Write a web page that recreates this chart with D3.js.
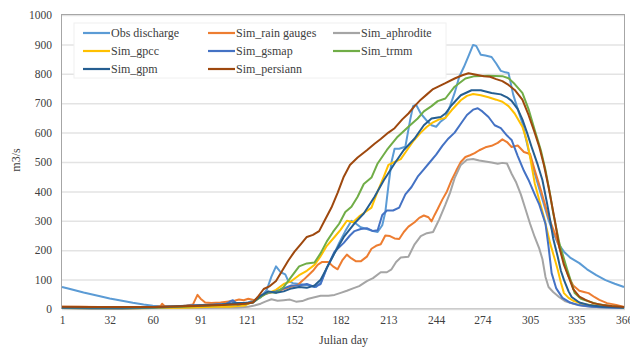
<!doctype html>
<html lang="">
<head>
  <meta charset="utf-8">
  <script src="https://cdn.jsdelivr.net/npm/d3@7/dist/d3.min.js"></script>
  <style>
    body { margin: 0; background: #fff; }
    svg text { font-family: "Liberation Serif", "Times New Roman", serif; fill: #404040; }
  </style>
</head>
<body>
<div id="chart"></div>
<script>
// daily discharge as [julian day, m3/s]
var obsDischarge = [[1,75],[5,70],[10,63],[15,56],[20,50],[25,44],[32,36],[40,28],[47,21],[54,15],[60,11],[66,9],[72,9],[78,10],[84,12],[90,13],[96,15],[102,17],[107,18],[111,28],[113,18],[118,20],[122,22],[126,30],[130,40],[134,65],[137,110],[140,145],[143,125],[146,118],[148,95],[151,88],[155,85],[159,82],[163,78],[166,75],[169,90],[173,140],[177,180],[181,225],[185,265],[189,300],[192,290],[195,278],[199,272],[203,265],[206,262],[209,285],[211,330],[213,420],[215,500],[217,545],[220,545],[224,552],[227,640],[229,690],[231,695],[234,665],[238,640],[241,625],[244,620],[247,638],[250,650],[253,690],[256,735],[259,790],[262,823],[265,860],[268,898],[270,895],[273,865],[276,862],[280,857],[283,835],[286,810],[289,805],[291,803],[294,730],[297,680],[300,632],[304,540],[308,462],[312,390],[317,303],[320,260],[323,224],[327,195],[331,175],[337,156],[342,135],[348,115],[354,98],[360,86],[366,75]];
var simRainGauges = [[1,8],[12,8],[25,7],[40,6],[55,6],[62,7],[65,9],[66,18],[68,8],[75,8],[82,12],[86,15],[89,48],[91,35],[94,22],[98,20],[104,22],[108,25],[113,28],[116,32],[119,30],[122,35],[126,30],[130,42],[134,53],[138,58],[141,60],[145,68],[150,76],[154,82],[158,100],[161,115],[164,130],[167,150],[170,160],[174,160],[177,145],[180,135],[183,165],[186,185],[189,172],[192,162],[195,162],[199,178],[202,205],[205,215],[208,220],[211,250],[214,248],[217,240],[220,238],[223,262],[226,280],[230,295],[233,310],[236,318],[239,312],[241,298],[243,320],[245,340],[248,372],[251,400],[254,438],[257,470],[260,500],[263,517],[266,523],[269,530],[272,540],[276,550],[280,555],[284,565],[287,577],[290,568],[293,551],[297,556],[301,534],[305,527],[308,473],[312,405],[317,313],[321,258],[324,211],[327,160],[330,110],[333,80],[337,62],[340,58],[343,54],[347,40],[350,31],[355,20],[361,14],[366,7]];
var simAphrodite = [[1,3],[20,3],[40,2],[60,3],[80,3],[100,4],[115,5],[122,8],[126,12],[130,18],[133,25],[137,33],[141,28],[145,30],[149,32],[153,25],[157,27],[161,35],[165,40],[169,45],[174,45],[178,48],[182,55],[186,62],[190,70],[194,78],[199,95],[203,105],[208,125],[212,125],[215,135],[218,160],[221,175],[226,178],[230,220],[234,248],[238,258],[242,262],[246,305],[250,355],[253,395],[256,445],[260,490],[264,508],[268,510],[272,505],[276,502],[280,498],[284,494],[287,497],[290,495],[293,460],[296,430],[299,390],[302,340],[305,290],[308,245],[311,205],[313,170],[315,109],[317,75],[320,58],[324,40],[328,26],[333,18],[340,10],[350,6],[366,3]];
var simGpcc = [[1,3],[20,2],[40,2],[60,3],[80,4],[90,6],[100,8],[110,8],[115,10],[120,12],[125,25],[130,45],[135,55],[140,65],[145,85],[150,95],[155,115],[160,130],[165,150],[169,180],[173,215],[178,245],[182,270],[186,300],[190,295],[194,315],[198,330],[202,345],[206,400],[210,450],[213,490],[217,500],[221,510],[225,540],[229,570],[234,600],[238,620],[242,635],[246,645],[250,650],[254,676],[260,710],[264,725],[268,731],[273,727],[278,720],[283,712],[287,705],[291,690],[295,665],[300,620],[303,570],[305,517],[308,428],[311,370],[314,313],[318,224],[321,170],[323,133],[325,90],[327,54],[330,38],[333,28],[340,16],[350,10],[366,5]];
var simGsmap = [[1,3],[20,2],[40,2],[60,4],[75,8],[85,12],[95,14],[102,15],[107,16],[112,30],[115,15],[120,18],[125,25],[130,45],[135,55],[140,60],[145,70],[150,80],[155,80],[160,85],[165,75],[169,85],[173,140],[178,195],[184,225],[188,250],[191,265],[195,272],[199,275],[203,265],[206,268],[209,320],[212,335],[216,335],[220,345],[224,390],[228,415],[232,450],[236,475],[240,500],[244,525],[248,555],[252,580],[256,600],[260,630],[264,660],[268,678],[271,683],[274,672],[278,653],[282,625],[286,615],[290,590],[293,575],[297,520],[301,470],[304,439],[308,390],[311,355],[315,290],[317,211],[319,122],[322,70],[326,38],[331,22],[336,14],[345,8],[355,5],[366,3]];
var simTrmm = [[1,5],[20,4],[40,4],[60,5],[80,8],[95,12],[105,14],[115,16],[120,18],[125,22],[130,40],[135,58],[140,55],[145,75],[150,110],[155,145],[160,155],[165,158],[169,190],[173,230],[177,262],[181,290],[185,330],[189,348],[193,382],[197,425],[202,447],[206,495],[212,541],[219,586],[226,620],[232,648],[236,672],[241,690],[245,707],[250,716],[256,756],[263,784],[269,792],[278,793],[287,792],[291,785],[295,765],[300,735],[304,680],[308,609],[312,540],[315,473],[318,390],[320,327],[324,224],[329,136],[334,54],[338,35],[343,26],[350,15],[358,9],[366,5]];
var simGpm = [[1,5],[20,4],[40,4],[60,6],[80,10],[95,13],[105,15],[115,20],[120,20],[125,22],[130,45],[135,60],[140,55],[145,60],[150,70],[155,75],[160,72],[165,80],[169,100],[173,140],[178,190],[184,245],[191,291],[197,325],[204,382],[210,438],[217,495],[223,541],[230,580],[236,625],[241,648],[247,653],[250,665],[254,693],[260,727],[267,744],[273,744],[280,735],[286,730],[290,720],[293,708],[297,680],[300,645],[303,600],[306,551],[310,490],[313,439],[316,360],[318,303],[320,240],[323,177],[325,130],[327,99],[330,60],[332,41],[337,22],[343,14],[352,8],[366,5]];
var simPersiann = [[1,8],[20,7],[40,7],[60,7],[80,9],[95,12],[105,14],[115,16],[120,18],[125,22],[128,40],[132,68],[136,78],[140,95],[144,130],[148,165],[152,195],[156,220],[160,245],[164,252],[168,265],[172,305],[176,345],[180,395],[184,450],[188,490],[193,515],[199,540],[204,562],[208,578],[213,600],[217,615],[222,645],[226,665],[230,690],[234,712],[238,730],[242,748],[246,758],[250,768],[256,784],[261,795],[265,802],[270,797],[275,792],[279,790],[283,782],[287,775],[291,762],[295,745],[300,712],[304,660],[308,600],[311,551],[314,490],[317,415],[321,303],[324,210],[327,150],[330,110],[333,68],[337,42],[341,31],[346,20],[352,14],[358,10],[366,7]];

var seriesNames = ["Obs discharge", "Sim_rain gauges", "Sim_aphrodite", "Sim_gpcc", "Sim_gsmap", "Sim_trmm", "Sim_gpm", "Sim_persiann"];
var seriesData = [obsDischarge, simRainGauges, simAphrodite, simGpcc, simGsmap, simTrmm, simGpm, simPersiann];
var colors = ["#5b9bd5", "#ed7d31", "#a5a5a5", "#ffc000", "#4472c4", "#70ad47", "#255e91", "#9e480e"];

var xTicks = [1, 32, 60, 91, 121, 152, 182, 213, 244, 274, 305, 335, 366];
var yTicks = [0, 100, 200, 300, 400, 500, 600, 700, 800, 900, 1000];

var width = 630, height = 347;
var plotL = 62, plotR = 625, plotT = 15, plotB = 309;

var svg = d3.select("#chart").append("svg")
    .attr("width", width)
    .attr("height", height);

var x = d3.scaleLinear().domain([1, 366]).range([plotL, plotR - 1]);
var y = d3.scaleLinear().domain([0, 1000]).range([plotB, plotT]);

// gridlines + y labels
var yAxis = svg.append("g")
    .attr("transform", "translate(" + plotL + ",0)")
    .call(d3.axisLeft(y).tickValues(yTicks).tickFormat(d3.format("d"))
      .tickSize(-(plotR - plotL)).tickPadding(10));
yAxis.select(".domain").remove();
yAxis.selectAll("line").attr("stroke", "#e3e3e3").attr("stroke-width", 1.5);
yAxis.selectAll("text").style("font-size", "11.5px");

// x labels
var xAxis = svg.append("g")
    .attr("transform", "translate(0," + plotB + ")")
    .call(d3.axisBottom(x).tickValues(xTicks).tickSize(0).tickPadding(7));
xAxis.select(".domain").remove();
xAxis.selectAll("text").style("font-size", "11.5px");

// plot frame
svg.append("rect")
    .attr("x", plotL - 0.5).attr("y", plotT - 0.5)
    .attr("width", plotR - plotL).attr("height", plotB - plotT)
    .attr("fill", "none").attr("stroke", "#a6a6a6").attr("stroke-width", 1);
svg.append("line")
    .attr("x1", plotL).attr("x2", plotR).attr("y1", plotB).attr("y2", plotB)
    .attr("stroke", "#d9d9d9").attr("stroke-width", 1.5);

var line = d3.line()
    .x(function(d) { return x(d[0]); })
    .y(function(d) { return y(d[1]); });

svg.selectAll(".series")
    .data(seriesData)
  .enter().append("path")
    .attr("class", "series")
    .attr("d", line)
    .attr("fill", "none")
    .attr("stroke", function(d, i) { return colors[i]; })
    .attr("stroke-width", 2)
    .attr("stroke-linejoin", "round");

// legend
var legend = svg.append("g");
legend.append("rect")
    .attr("x", 74).attr("y", 23).attr("width", 372).attr("height", 55)
    .attr("fill", "#fff").attr("stroke", "#f0f0f0");

var item = legend.selectAll(".item")
    .data(seriesNames)
  .enter().append("g")
    .attr("class", "item")
    .attr("transform", function(d, i) {
      return "translate(" + (83 + (i % 3) * 125) + "," + (33 + Math.floor(i / 3) * 18) + ")";
    });
item.append("line")
    .attr("x1", 0).attr("x2", 27)
    .attr("stroke", function(d, i) { return colors[i]; })
    .attr("stroke-width", 2.2);
item.append("text")
    .attr("x", 28).attr("dy", "0.35em")
    .style("font-size", "12px")
    .text(function(d) { return d; });

// axis titles
svg.append("text")
    .attr("x", (plotL + plotR) / 2).attr("y", 344)
    .attr("text-anchor", "middle")
    .style("font-size", "12px")
    .text("Julian day");
svg.append("text")
    .attr("transform", "translate(20,160) rotate(-90)")
    .attr("text-anchor", "middle")
    .style("font-size", "12px")
    .text("m3/s");
</script>
</body>
</html>
